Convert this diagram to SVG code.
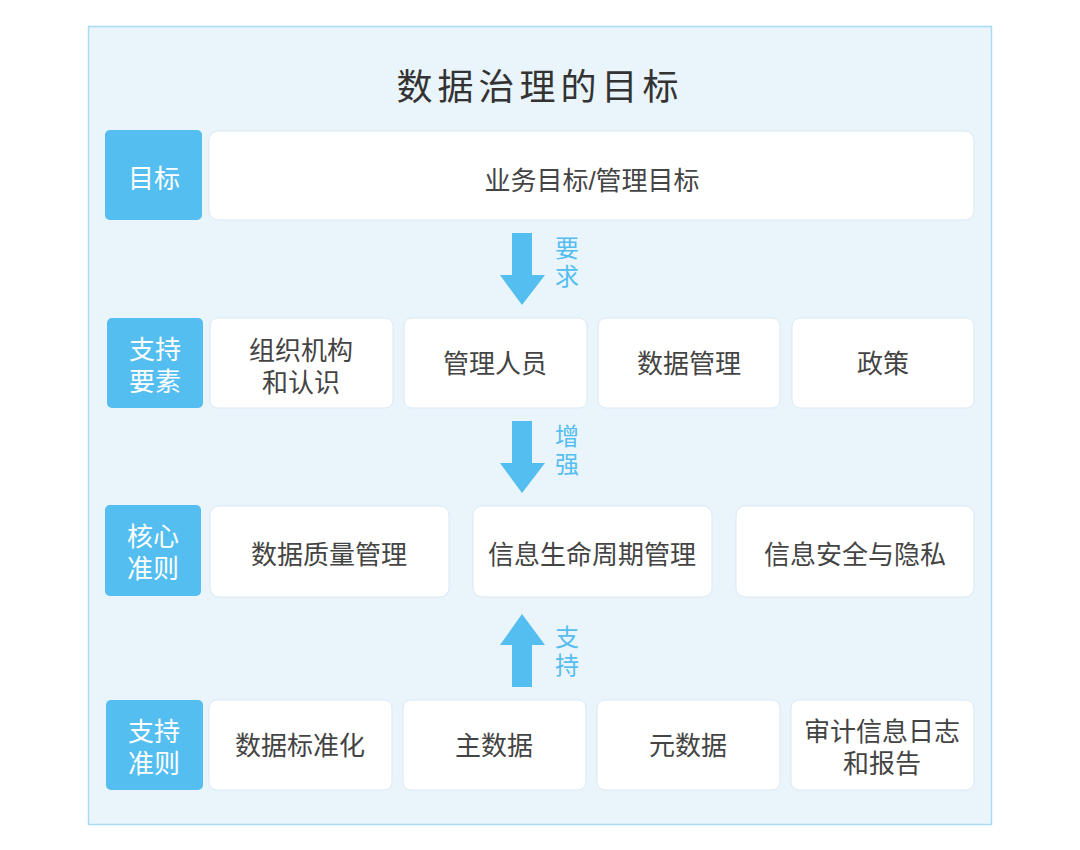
<svg xmlns="http://www.w3.org/2000/svg" width="1080" height="850" viewBox="0 0 1080 850">
<style>
text{font-family:"Liberation Sans","Noto Sans CJK SC",sans-serif;}
.lab{fill:#54bef0;}
.lt{fill:#fff;font-size:26px;text-anchor:middle;}
.box{fill:#fff;stroke:#dbe9f2;stroke-width:1;}
.bt{fill:#444;font-size:26px;text-anchor:middle;}
.arr{fill:#54bef0;}
.at{fill:#54bef0;font-size:24px;text-anchor:middle;}
</style>
<rect x="88.5" y="26.5" width="903" height="798" fill="#eaf4fb" stroke="#a9dcf1" stroke-width="1.5"/>
<text x="540" y="100" font-size="36" fill="#333" text-anchor="middle" letter-spacing="5">数据治理的目标</text>
<g id="row1">
<g id="lab1"><rect class="lab" x="105" y="130" width="97" height="90" rx="5"/><text class="lt" x="154" y="188">目标</text></g>
<g id="goal"><rect class="box" x="209" y="131" width="765" height="89" rx="9"/><text class="bt" x="592" y="190">业务目标/管理目标</text></g>
</g>
<g id="row2">
<g id="lab2"><rect class="lab" x="107" y="318" width="96" height="90" rx="5"/><text class="lt"><tspan x="155" y="359">支持</tspan><tspan x="155" y="391">要素</tspan></text></g>
<g id="n21"><rect class="box" x="210" y="318" width="183" height="90" rx="8"/><text class="bt"><tspan x="301" y="360">组织机构</tspan><tspan x="301" y="392">和认识</tspan></text></g>
<g id="n22"><rect class="box" x="404" y="318" width="183" height="90" rx="8"/><text class="bt" x="495" y="373">管理人员</text></g>
<g id="n23"><rect class="box" x="598" y="318" width="182" height="90" rx="8"/><text class="bt" x="689" y="373">数据管理</text></g>
<g id="n24"><rect class="box" x="792" y="318" width="182" height="90" rx="8"/><text class="bt" x="883" y="373">政策</text></g>
</g>
<g id="row3">
<g id="lab3"><rect class="lab" x="105" y="505" width="96" height="91" rx="5"/><text class="lt"><tspan x="153" y="546">核心</tspan><tspan x="153" y="578">准则</tspan></text></g>
<g id="n31"><rect class="box" x="210" y="506" width="239" height="91" rx="9"/><text class="bt" x="329" y="564">数据质量管理</text></g>
<g id="n32"><rect class="box" x="473" y="506" width="239" height="91" rx="9"/><text class="bt" x="592" y="564">信息生命周期管理</text></g>
<g id="n33"><rect class="box" x="736" y="506" width="238" height="91" rx="9"/><text class="bt" x="855" y="564">信息安全与隐私</text></g>
</g>
<g id="row4">
<g id="lab4"><rect class="lab" x="106" y="700" width="97" height="90" rx="5"/><text class="lt"><tspan x="154" y="741">支持</tspan><tspan x="154" y="773">准则</tspan></text></g>
<g id="n41"><rect class="box" x="209" y="700" width="183" height="90" rx="8"/><text class="bt" x="300" y="755">数据标准化</text></g>
<g id="n42"><rect class="box" x="403" y="700" width="183" height="90" rx="8"/><text class="bt" x="494" y="755">主数据</text></g>
<g id="n43"><rect class="box" x="597" y="700" width="183" height="90" rx="8"/><text class="bt" x="688" y="755">元数据</text></g>
<g id="n44"><rect class="box" x="791" y="700" width="183" height="90" rx="8"/><text class="bt"><tspan x="882" y="741">审计信息日志</tspan><tspan x="882" y="773">和报告</tspan></text></g>
</g>
<g id="connectors">
<polygon class="arr" points="512,233 532,233 532,275 545,275 522,305 500,275 512,275"/>
<text class="at"><tspan x="567" y="257">要</tspan><tspan x="567" y="285">求</tspan></text>
<polygon class="arr" points="512,421 532,421 532,463 545,463 522,493 500,463 512,463"/>
<text class="at"><tspan x="567" y="445">增</tspan><tspan x="567" y="473">强</tspan></text>
<polygon class="arr" points="512,687 532,687 532,645 545,645 522,614 500,645 512,645"/>
<text class="at"><tspan x="567" y="646">支</tspan><tspan x="567" y="674">持</tspan></text>
</g>
</svg>
